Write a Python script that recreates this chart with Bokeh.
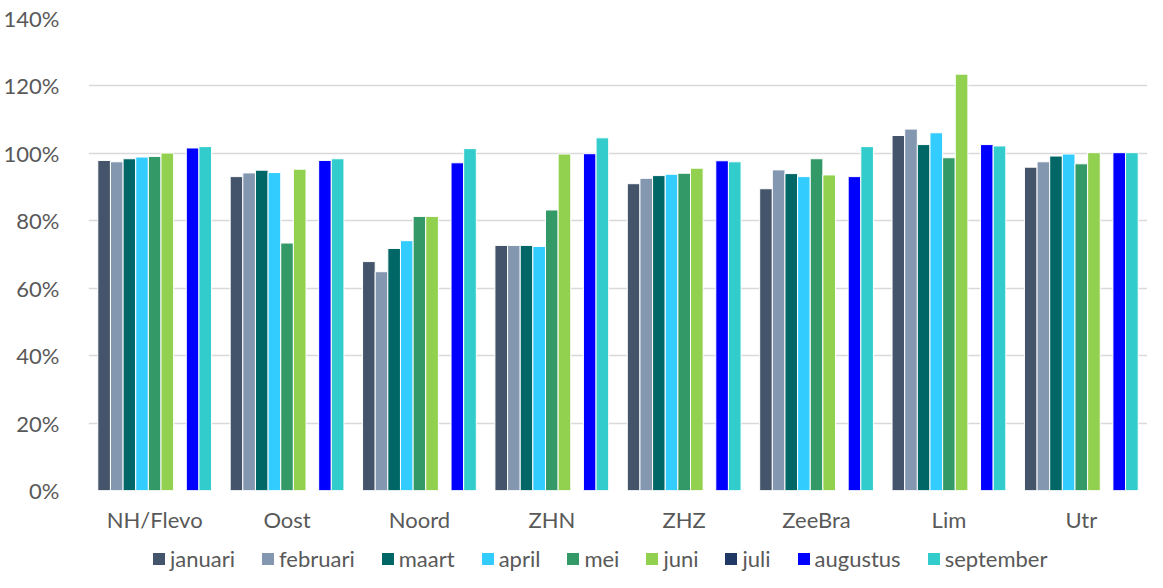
from bokeh.plotting import figure
from bokeh.layouts import column
from bokeh.models import Range1d, FactorRange, PrintfTickFormatter, Legend, LegendItem, FixedTicker
from bokeh.transform import dodge
from bokeh.embed import file_html
from bokeh.resources import INLINE

regions = ["NH/Flevo", "Oost", "Noord", "ZHN", "ZHZ", "ZeeBra", "Lim", "Utr"]
months = ["januari", "februari", "maart", "april", "mei", "juni", "juli", "augustus", "september"]

januari   = [97.9, 93.1, 67.9, 72.7, 91.0, 89.5, 105.3, 95.9]
februari  = [97.5, 94.2, 64.9, 72.7, 92.6, 95.1, 107.2, 97.5]
maart     = [98.4, 95.0, 71.8, 72.7, 93.4, 94.0, 102.6, 99.2]
april     = [98.9, 94.3, 74.1, 72.4, 93.8, 93.1, 106.1, 99.8]
mei       = [99.1, 73.4, 81.3, 83.2, 94.1, 98.4, 98.7, 96.9]
juni      = [100.1, 95.3, 81.3, 99.8, 95.6, 93.6, 123.5, 100.2]
juli      = [0, 0, 0, 0, 0, 0, 0, 0]
augustus  = [101.6, 97.9, 97.2, 99.9, 97.8, 93.1, 102.6, 100.2]
september = [102.0, 98.4, 101.4, 104.6, 97.5, 102.0, 102.2, 100.2]

series = [januari, februari, maart, april, mei, juni, juli, augustus, september]
colors = ["#44546A", "#8497B0", "#006666", "#33CCFF", "#339966", "#92D050", "#203864", "#0000FF", "#33CCCC"]

FONT = "Lato"
TXT = "#595959"

p = figure(x_range=FactorRange(*regions, range_padding=0), y_range=Range1d(0, 140),
           width=1147, height=545, min_border_left=85, min_border_top=18,
           min_border_right=0, min_border_bottom=55,
           output_backend="svg", toolbar_location=None)

data = {"region": regions}
for m, s in zip(months, series):
    data[m] = s

pitch = 0.0955
for i, (m, c) in enumerate(zip(months, colors)):
    p.vbar(x=dodge("region", (i - 4) * pitch, range=p.x_range), top=m, width=pitch,
           source=data, fill_color=c, line_color="white", line_width=1)

p.yaxis.ticker = FixedTicker(ticks=[0, 20, 40, 60, 80, 100, 120, 140])
p.yaxis.formatter = PrintfTickFormatter(format="%d%%")
for ax in (p.xaxis[0], p.yaxis[0]):
    ax.axis_line_color = None
    ax.major_tick_line_color = None
    ax.minor_tick_line_color = None
    ax.major_label_text_font = FONT
    ax.major_label_text_font_size = "22px"
    ax.major_label_text_color = TXT
p.yaxis.major_label_standoff = 23
p.xaxis.major_label_standoff = 9

p.xgrid.grid_line_color = None
p.ygrid.grid_line_color = "#D9D9D9"
p.ygrid.grid_line_width = 1.5
p.outline_line_color = None

# legend strip below the chart (its key renderers sit outside the visible range)
lg = figure(width=1147, height=27, x_range=Range1d(0, 1), y_range=Range1d(0, 1),
            min_border_left=85, min_border_right=0, min_border_top=0, min_border_bottom=0,
            x_axis_type=None, y_axis_type=None,
            output_backend="svg", toolbar_location=None)
lg.xgrid.grid_line_color = None
lg.ygrid.grid_line_color = None
lg.outline_line_color = None

items = []
for m, c in zip(months, colors):
    r = lg.vbar(x=[-5], top=[0], width=0.1, fill_color=c, line_color=c, line_width=0)
    items.append(LegendItem(label=m, renderers=[r]))

legend = Legend(items=items, orientation="horizontal", location=(63, 0),
                label_text_font=FONT, label_text_font_size="22px", label_text_color=TXT,
                glyph_width=15, glyph_height=15, label_standoff=4, spacing=25,
                padding=0, margin=0, border_line_color=None, background_fill_alpha=0)
lg.add_layout(legend, "center")

layout = column(p, lg, spacing=0)
open("out.html", "w").write(file_html(layout, INLINE))
